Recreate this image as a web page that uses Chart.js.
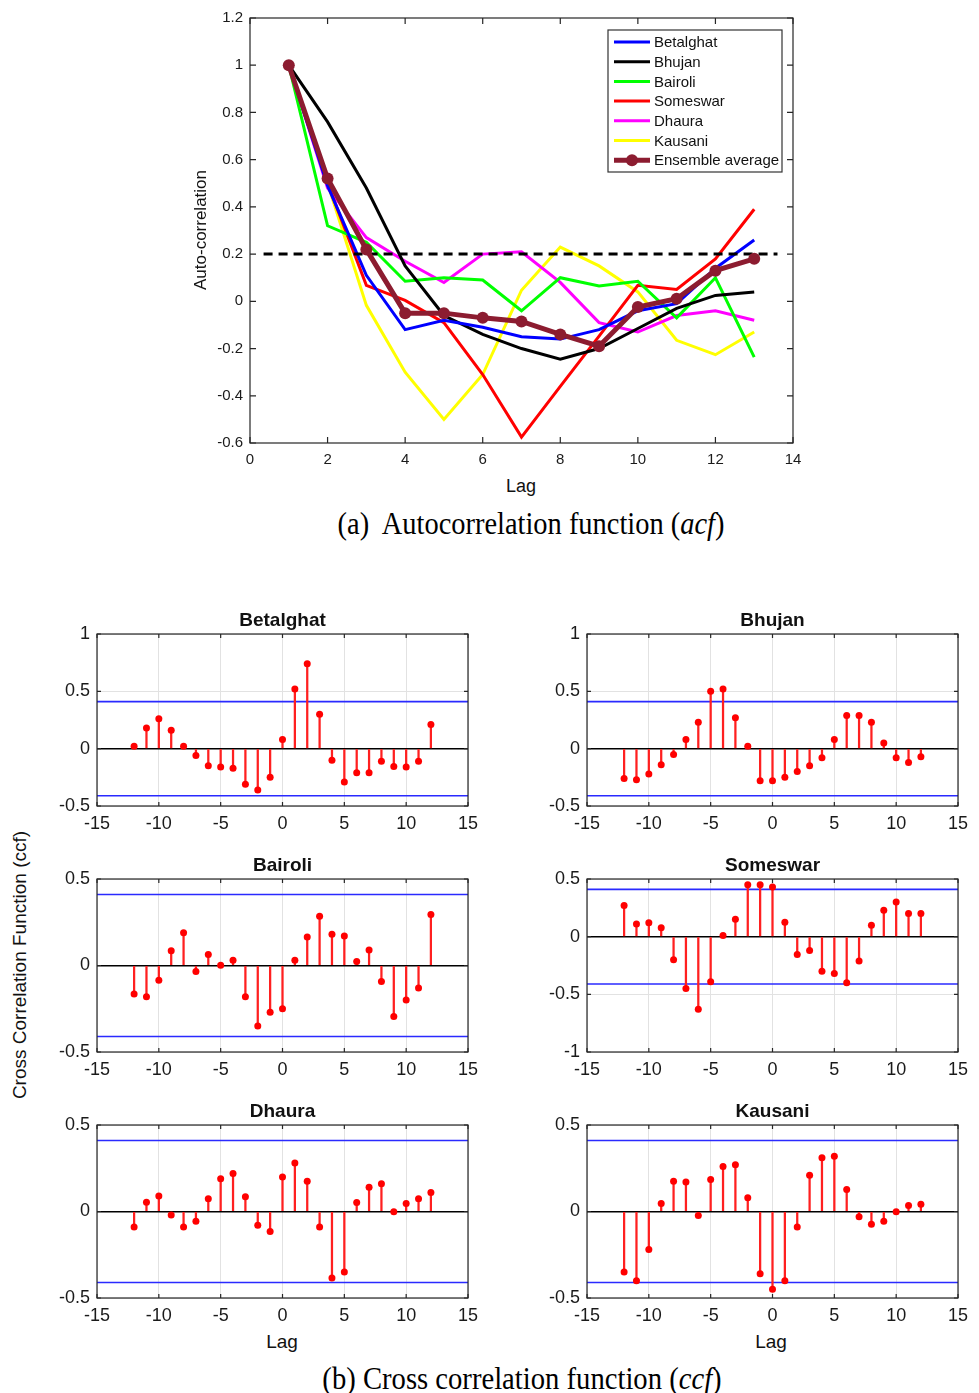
<!DOCTYPE html>
<html>
<head>
<meta charset="utf-8">
<script src="https://cdn.jsdelivr.net/npm/chart.js@4.4.1/dist/chart.umd.min.js"></script>
<style>
body{margin:0;background:#fff;width:979px;height:1393px;position:relative;overflow:hidden;font-family:"Liberation Sans",Arial,sans-serif;}
.box{position:absolute;}
.txt{position:absolute;white-space:nowrap;transform:translate(-50%,-50%);color:#111;}
.rot{transform:translate(-50%,-50%) rotate(-90deg);}
.cap{font-family:"Liberation Serif","Times New Roman",serif;font-size:31px;color:#000;}
</style>
</head>
<body>
<div class="box" id="acfBox" style="left:150px;top:0;width:660px;height:475px;"><canvas id="acf"></canvas></div>
<div class="txt rot" style="left:201px;top:230px;font-size:17px;">Auto-correlation</div>
<div class="txt" style="left:521px;top:486px;font-size:18px;">Lag</div>
<div class="txt cap" style="left:531px;top:524px;transform:translate(-50%,-50%) scaleX(0.917);">(a)&nbsp; Autocorrelation function (<i>acf</i>)</div>

<div class="txt rot" style="left:20px;top:965px;font-size:19px;">Cross Correlation Function (ccf)</div>
<div class="txt" style="left:282px;top:1342px;font-size:19px;">Lag</div>
<div class="txt" style="left:771px;top:1342px;font-size:19px;">Lag</div>
<div class="txt cap" style="left:522px;top:1379px;transform:translate(-50%,-50%) scaleX(0.924);">(b) Cross correlation function (<i>ccf</i>)</div>

<script>
// ---------- data: autocorrelation ----------
const acfLags = [1, 2, 3, 4, 5, 6, 7, 8, 9, 10, 11, 12, 13];
const betalghatAcf = [1, 0.49, 0.11, -0.12, -0.08, -0.11, -0.15, -0.16, -0.12, -0.04, -0.01, 0.14, 0.26];
const bhujanAcf = [1, 0.76, 0.48, 0.15, -0.06, -0.14, -0.2, -0.245, -0.2, -0.115, -0.03, 0.025, 0.04];
const bairoliAcf = [1, 0.32, 0.25, 0.085, 0.1, 0.09, -0.04, 0.1, 0.065, 0.085, -0.07, 0.1, -0.236];
const someswarAcf = [1, 0.5, 0.068, 0.004, -0.09, -0.31, -0.575, -0.36, -0.147, 0.068, 0.05, 0.18, 0.39];
const dhauraAcf = [1, 0.48, 0.27, 0.17, 0.08, 0.2, 0.21, 0.08, -0.09, -0.13, -0.06, -0.04, -0.08];
const kausaniAcf = [1, 0.5, -0.017, -0.3, -0.5, -0.31, 0.047, 0.23, 0.15, 0.04, -0.165, -0.226, -0.13];
const ensembleAcf = [1, 0.52, 0.22, -0.05, -0.05, -0.07, -0.085, -0.14, -0.19, -0.024, 0.011, 0.13, 0.18];
const acfSigLevel = 0.2;
const acfSigLagRange = [0.35, 13.6];

const stationNames = ['Betalghat', 'Bhujan', 'Bairoli', 'Someswar', 'Dhaura', 'Kausani'];
const stationAcf = [betalghatAcf, bhujanAcf, bairoliAcf, someswarAcf, dhauraAcf, kausaniAcf];

// ---------- data: cross correlation ----------
const ccfLags = [-12, -11, -10, -9, -8, -7, -6, -5, -4, -3, -2, -1, 0, 1, 2, 3, 4, 5, 6, 7, 8, 9, 10, 11, 12];
const betalghatCcf = [0.02, 0.18, 0.26, 0.16, 0.02, -0.06, -0.15, -0.16, -0.17, -0.31, -0.36, -0.25, 0.08, 0.52, 0.74, 0.3, -0.1, -0.29, -0.21, -0.21, -0.11, -0.155, -0.16, -0.11, 0.21];
const bhujanCcf = [-0.26, -0.27, -0.22, -0.14, -0.05, 0.08, 0.23, 0.5, 0.52, 0.27, 0.02, -0.28, -0.28, -0.25, -0.2, -0.15, -0.08, 0.08, 0.29, 0.29, 0.23, 0.05, -0.08, -0.12, -0.07];
const bairoliCcf = [-0.165, -0.18, -0.085, 0.085, 0.19, -0.035, 0.064, 0.002, 0.03, -0.18, -0.35, -0.27, -0.25, 0.03, 0.165, 0.285, 0.18, 0.17, 0.023, 0.09, -0.093, -0.295, -0.2, -0.13, 0.295];
const someswarCcf = [0.27, 0.11, 0.12, 0.077, -0.2, -0.45, -0.63, -0.39, 0.01, 0.15, 0.45, 0.45, 0.43, 0.125, -0.155, -0.12, -0.3, -0.32, -0.4, -0.21, 0.1, 0.23, 0.3, 0.2, 0.2];
const dhauraCcf = [-0.09, 0.054, 0.09, -0.02, -0.09, -0.056, 0.073, 0.19, 0.22, 0.085, -0.08, -0.115, 0.2, 0.28, 0.175, -0.09, -0.385, -0.35, 0.052, 0.14, 0.16, -0.002, 0.046, 0.073, 0.11];
const kausaniCcf = [-0.35, -0.4, -0.22, 0.046, 0.175, 0.17, -0.023, 0.185, 0.26, 0.27, 0.08, -0.36, -0.45, -0.4, -0.09, 0.21, 0.31, 0.32, 0.127, -0.03, -0.073, -0.056, -0.002, 0.035, 0.042];
const ccfBound = 0.41;
const ccfLagRange = [-15, 15];
const ccfYRanges = [[-0.5, 1], [-0.5, 1], [-0.5, 0.5], [-1, 0.5], [-0.5, 0.5], [-0.5, 0.5]];
const stationCcf = [betalghatCcf, bhujanCcf, bairoliCcf, someswarCcf, dhauraCcf, kausaniCcf];

// ---------- styles / layout ----------
const stationColors = ['#0000ff', '#000000', '#00ff00', '#ff0000', '#ff00ff', '#ffff00'];
const ensembleColor = '#8c1c30';
// plot rectangles (left, top, width, height) for the six ccf panels
const ccfRects = [[97, 634, 371, 172], [587, 634, 371, 172], [97, 879, 371, 173], [587, 879, 371, 173], [97, 1125, 371, 173], [587, 1125, 371, 173]];

Chart.defaults.font.family = '"Liberation Sans", Arial, sans-serif';
Chart.defaults.color = '#1a1a1a';

const fmt = v => String(+(+v).toFixed(1));
const pts = (xs, ys) => xs.map((x, i) => ({x: x, y: ys[i]}));

// MATLAB style box with inward ticks on all four sides
const boxPlugin = {
  id: 'matBox',
  afterDatasetsDraw(chart, args, opts) {
    const {ctx, chartArea: a} = chart;
    const x = chart.scales.x, y = chart.scales.y;
    const len = opts.tick || 5;
    ctx.save();
    ctx.strokeStyle = '#262626';
    ctx.lineWidth = 1.2;
    ctx.beginPath();
    x.ticks.forEach(t => {
      const px = x.getPixelForValue(t.value);
      ctx.moveTo(px, a.bottom); ctx.lineTo(px, a.bottom - len);
      ctx.moveTo(px, a.top); ctx.lineTo(px, a.top + len);
    });
    y.ticks.forEach(t => {
      const py = y.getPixelForValue(t.value);
      ctx.moveTo(a.left, py); ctx.lineTo(a.left + len, py);
      ctx.moveTo(a.right, py); ctx.lineTo(a.right - len, py);
    });
    ctx.stroke();
    ctx.strokeRect(a.left, a.top, a.right - a.left, a.bottom - a.top);
    ctx.restore();
  }
};

// legend box inside the acf plot, top right
const acfLegendPlugin = {
  id: 'acfLegend',
  afterDraw(chart) {
    const {ctx, chartArea: a} = chart;
    const bx = a.right - 185, by = a.top + 12, bw = 174, bh = 142;
    ctx.save();
    ctx.fillStyle = '#fff';
    ctx.fillRect(bx, by, bw, bh);
    ctx.strokeStyle = '#333';
    ctx.lineWidth = 1.2;
    ctx.strokeRect(bx, by, bw, bh);
    ctx.font = '15px "Liberation Sans", Arial, sans-serif';
    ctx.textBaseline = 'middle';
    const items = chart.data.datasets.filter(d => d.label);
    items.forEach((d, i) => {
      const yy = by + 12 + i * 19.7;
      ctx.strokeStyle = d.borderColor;
      ctx.lineWidth = d.label === 'Ensemble average' ? 5 : 3;
      ctx.beginPath();
      ctx.moveTo(bx + 6, yy); ctx.lineTo(bx + 42, yy);
      ctx.stroke();
      if (d.pointRadius) {
        ctx.fillStyle = d.borderColor;
        ctx.beginPath();
        ctx.arc(bx + 24, yy, 6, 0, Math.PI * 2);
        ctx.fill();
      }
      ctx.fillStyle = '#111';
      ctx.fillText(d.label, bx + 46, yy + 1);
    });
    ctx.restore();
  }
};

// ---------- autocorrelation chart ----------
const acfDatasets = stationNames.map((name, i) => ({
  label: name,
  data: pts(acfLags, stationAcf[i]),
  borderColor: stationColors[i],
  borderWidth: 3,
  pointRadius: 0,
  order: 3
}));
acfDatasets.push({
  label: 'Ensemble average',
  data: pts(acfLags, ensembleAcf),
  borderColor: ensembleColor,
  backgroundColor: ensembleColor,
  borderWidth: 5,
  pointRadius: 6,
  pointBackgroundColor: ensembleColor,
  pointBorderWidth: 0,
  order: 0
});
acfDatasets.push({
  data: acfSigLagRange.map(x => ({x: x, y: acfSigLevel})),
  borderColor: '#000',
  borderWidth: 3,
  borderDash: [9, 6],
  pointRadius: 0,
  order: 1
});

new Chart(document.getElementById('acf'), {
  type: 'line',
  data: {datasets: acfDatasets},
  options: {
    responsive: true,
    maintainAspectRatio: false,
    animation: false,
    layout: {padding: {top: 18, right: 17, left: 0, bottom: 0}},
    plugins: {legend: {display: false}, tooltip: {enabled: false}, matBox: {tick: 6}},
    scales: {
      x: {
        type: 'linear', min: 0, max: 14,
        ticks: {stepSize: 2, font: {size: 15}, padding: 8, callback: fmt, maxRotation: 0},
        grid: {display: false, drawTicks: false},
        border: {display: false},
        afterFit: s => { s.height = 32; }
      },
      y: {
        min: -0.6, max: 1.2,
        ticks: {stepSize: 0.2, font: {size: 15}, padding: 7, callback: fmt},
        grid: {display: false, drawTicks: false},
        border: {display: false},
        afterFit: s => { s.width = 100; }
      }
    }
  },
  plugins: [boxPlugin, acfLegendPlugin]
});

// ---------- cross correlation panels ----------
function addTitle(text, cx, cy) {
  const d = document.createElement('div');
  d.className = 'txt';
  d.style.left = cx + 'px';
  d.style.top = cy + 'px';
  d.style.fontSize = '19px';
  d.style.fontWeight = 'bold';
  d.textContent = text;
  document.body.appendChild(d);
}

stationNames.forEach((name, i) => {
  const [pl, pt, pw, ph] = ccfRects[i];
  const div = document.createElement('div');
  div.className = 'box';
  div.style.left = (pl - 67) + 'px';
  div.style.top = (pt - 36) + 'px';
  div.style.width = (pw + 87) + 'px';
  div.style.height = (ph + 66) + 'px';
  const cv = document.createElement('canvas');
  div.appendChild(cv);
  document.body.appendChild(div);
  addTitle(name, pl + pw / 2, pt - 14);

  const vals = stationCcf[i];
  new Chart(cv, {
    type: 'bar',
    data: {
      datasets: [
        {
          type: 'line',
          data: pts(ccfLags, vals),
          showLine: false,
          pointRadius: 3.5,
          pointBackgroundColor: '#ff0000',
          pointBorderColor: '#ff0000',
          pointBorderWidth: 0,
          order: 0
        },
        {
          type: 'bar',
          data: pts(ccfLags, vals),
          backgroundColor: '#ff2020',
          barThickness: 1.6,
          order: 1
        },
        {
          type: 'line',
          data: ccfLagRange.map(x => ({x: x, y: ccfBound})),
          borderColor: '#2a2aff',
          borderWidth: 1.6,
          pointRadius: 0,
          order: 2
        },
        {
          type: 'line',
          data: ccfLagRange.map(x => ({x: x, y: -ccfBound})),
          borderColor: '#2a2aff',
          borderWidth: 1.6,
          pointRadius: 0,
          order: 2
        }
      ]
    },
    options: {
      responsive: true,
      maintainAspectRatio: false,
      animation: false,
      layout: {padding: {top: 36, right: 20, left: 0, bottom: 0}},
      plugins: {legend: {display: false}, tooltip: {enabled: false}, matBox: {tick: 4}},
      scales: {
        x: {
          type: 'linear', min: -15, max: 15, offset: false,
          ticks: {stepSize: 5, font: {size: 18}, padding: 7, callback: fmt, maxRotation: 0},
          grid: {color: '#e2e2e2', lineWidth: 1, drawTicks: false, offset: false},
          border: {display: false},
          afterFit: s => { s.height = 30; }
        },
        y: {
          min: ccfYRanges[i][0], max: ccfYRanges[i][1],
          ticks: {stepSize: 0.5, font: {size: 18}, padding: 7, callback: fmt},
          grid: {
            color: c => (c.tick && c.tick.value === 0) ? '#000' : '#e2e2e2',
            lineWidth: c => (c.tick && c.tick.value === 0) ? 1.6 : 1,
            drawTicks: false
          },
          border: {display: false},
          afterFit: s => { s.width = 67; }
        }
      }
    },
    plugins: [boxPlugin]
  });
});
</script>
</body>
</html>
